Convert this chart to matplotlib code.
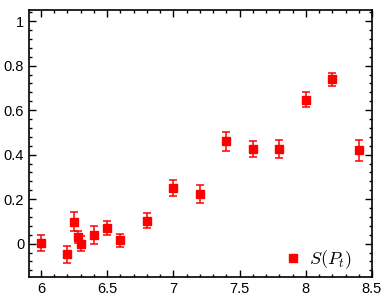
import numpy as np
import matplotlib
matplotlib.use('Agg')
import matplotlib.pyplot as plt
from matplotlib.ticker import MultipleLocator
from matplotlib.lines import Line2D

plt.rcParams['font.family'] = 'Liberation Sans'
plt.rcParams['mathtext.fontset'] = 'cm'

# data
pt = [6.0, 6.2, 6.25, 6.28, 6.3, 6.4, 6.5, 6.6, 6.8, 7.0, 7.2,
      7.4, 7.6, 7.8, 8.0, 8.2, 8.4]
s_pt = [0.002, -0.048, 0.099, 0.030, 0.0, 0.037, 0.069, 0.015, 0.103, 0.250, 0.224,
        0.459, 0.425, 0.425, 0.646, 0.738, 0.420]
err = [0.035, 0.037, 0.042, 0.025, 0.035, 0.040, 0.031, 0.030, 0.034, 0.035, 0.040,
       0.042, 0.036, 0.041, 0.034, 0.030, 0.047]

fig = plt.figure(figsize=(3.9, 3.04), dpi=100)
ax = fig.add_axes([29/390, 1 - 277/304, (372 - 29)/390, (277 - 10)/304])

ax.errorbar(pt, s_pt, yerr=err, fmt='s', color='red', ecolor='red',
            markersize=6, elinewidth=1.1, capsize=2.6, capthick=1.1)

ax.set_xlim(5.91, 8.5)
ax.set_ylim(-0.15, 1.05)
ax.xaxis.set_major_locator(MultipleLocator(0.5))
ax.xaxis.set_minor_locator(MultipleLocator(0.1))
ax.yaxis.set_major_locator(MultipleLocator(0.2))
ax.yaxis.set_minor_locator(MultipleLocator(0.04))
ax.xaxis.set_major_formatter(plt.FuncFormatter(lambda v, _: f'{v:g}'))
ax.yaxis.set_major_formatter(plt.FuncFormatter(lambda v, _: f'{v:g}' if abs(v) > 1e-9 else '0'))

ax.tick_params(which='both', direction='in', top=True, right=True, labelsize=10.5, width=1)
ax.tick_params(which='major', length=5)
ax.tick_params(which='minor', length=2.5)
for sp in ax.spines.values():
    sp.set_linewidth(1.2)

handle = Line2D([], [], marker='s', linestyle='none', color='red', markersize=5.5)
ax.legend([handle], [r'$S(P_t)$'], loc='center right', bbox_to_anchor=(0.94, 0.064),
          frameon=False, fontsize=13, handletextpad=0.4, borderaxespad=0,
          borderpad=0, handlelength=1.0)

fig.savefig('out.png', dpi=100)
